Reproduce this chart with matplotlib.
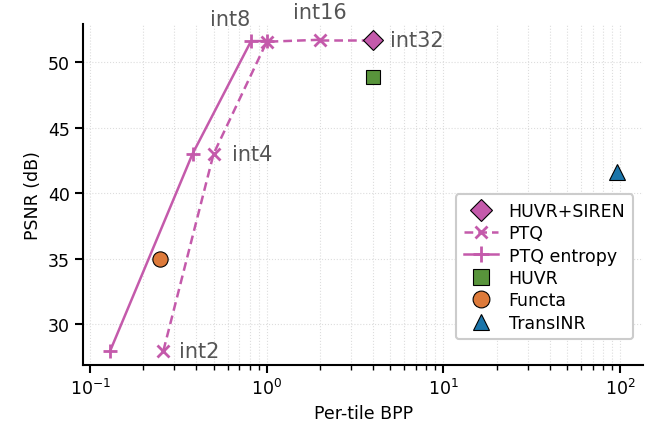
import matplotlib
matplotlib.use("Agg")
import matplotlib.pyplot as plt

# PTQ (plain) at int2 .. int16
ptq_bpp = [0.26, 0.5, 1.0, 2.0]
ptq_psnr = [28.0, 43.0, 51.55, 51.7]

# PTQ + entropy coding
ent_bpp = [0.13, 0.38, 0.815, 1.0]
ent_psnr = [28.0, 43.0, 51.6, 51.6]

# single points
siren_bpp, siren_psnr = 4.0, 51.7
huvr_bpp, huvr_psnr = 4.0, 48.9
functa_bpp, functa_psnr = 0.25, 35.0
transinr_bpp, transinr_psnr = 96.0, 41.6

labels = ["int2", "int4", "int8", "int16", "int32"]
label_xy = [(0.32, 28.0), (0.635, 43.0), (0.475, 53.3), (1.41, 53.8), (5.0, 51.7)]

pink = "#c45aab"
green = "#58943b"
orange = "#dd7a3a"
blue = "#1b75aa"
grey = "#555555"

fig = plt.figure(figsize=(6.65, 4.39), dpi=100)
ax = fig.add_axes([0.125, 0.166, 0.842, 0.777])

ax.plot([ptq_bpp[-1], siren_bpp], [ptq_psnr[-1], siren_psnr], color=pink, lw=1.8,
        ls=(0, (3.5, 2)))
ax.plot(siren_bpp, siren_psnr, marker="D", ms=10, color=pink, mec="black", mew=0.8,
        ls="none", label="HUVR+SIREN", zorder=4)
ax.plot(ptq_bpp, ptq_psnr, color=pink, lw=1.8, ls=(0, (3.5, 2)), marker="x", ms=8,
        mew=2, label="PTQ", zorder=3)
ax.plot(ent_bpp, ent_psnr, color=pink, lw=1.8, marker="+", ms=10, mew=2,
        label="PTQ entropy", zorder=3)
ax.plot(huvr_bpp, huvr_psnr, marker="s", ms=10, color=green, mec="black", mew=0.8,
        ls="none", label="HUVR", zorder=4)
ax.plot(functa_bpp, functa_psnr, marker="o", ms=11, color=orange, mec="black", mew=0.8,
        ls="none", label="Functa", zorder=4)
ax.plot(transinr_bpp, transinr_psnr, marker="^", ms=11, color=blue, mec="black", mew=0.8,
        ls="none", label="TransINR", zorder=4)

for txt, (x, y) in zip(labels, label_xy):
    ax.text(x, y, txt, fontsize=15, color=grey, va="center", ha="left")

ax.set_xscale("log")
ax.set_xlim(0.0913, 135)
ax.set_ylim(26.9, 52.9)
ax.set_yticks([30, 35, 40, 45, 50])

ax.grid(True, which="both", ls=":", color="#dddddd", lw=0.8)
ax.set_axisbelow(True)
for s in ["top", "right"]:
    ax.spines[s].set_visible(False)
for s in ["left", "bottom"]:
    ax.spines[s].set_linewidth(1.5)
ax.tick_params(which="major", length=6, width=1.5, labelsize=12.5)
ax.tick_params(which="minor", length=3.5, width=1.0)

ax.set_xlabel("Per-tile BPP", fontsize=12.5)
ax.set_ylabel("PSNR (dB)", fontsize=12.5)

leg = ax.legend(loc="lower right", fontsize=12.5, frameon=True, fancybox=True,
                edgecolor="#cccccc", framealpha=1.0, borderpad=0.45,
                handlelength=2.0, labelspacing=0.25, handletextpad=0.6,
                markerscale=1.1, bbox_to_anchor=(0.998, 0.05))
leg.get_frame().set_linewidth(1.5)

fig.savefig("out.png", dpi=100)
